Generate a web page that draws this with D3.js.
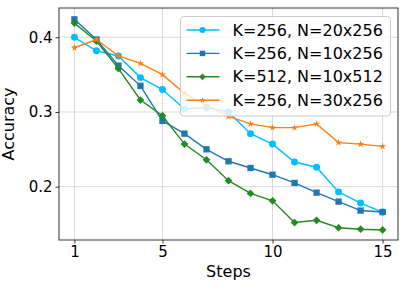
<!DOCTYPE html>
<html>
<head>
<meta charset="utf-8">
<script src="https://cdn.jsdelivr.net/npm/d3@7"></script>
<style>
  body { margin: 0; background: #fff; }
  svg { display: block; font-family: "DejaVu Sans", sans-serif; }
</style>
</head>
<body>
<svg id="chart" width="407" height="291"></svg>
<script>
var steps = d3.range(1, 16);
var xTicks = [1, 5, 10, 15];
var yTicks = [0.2, 0.3, 0.4];

var seriesNames = ["K=256, N=20x256", "K=256, N=10x256", "K=512, N=10x512", "K=256, N=30x256"];
var accN20 = [0.400, 0.382, 0.375, 0.346, 0.330, 0.304, 0.306, 0.300, 0.271, 0.257, 0.233, 0.226, 0.193, 0.178, 0.166];
var accN10 = [0.424, 0.397, 0.362, 0.335, 0.288, 0.271, 0.250, 0.234, 0.225, 0.216, 0.205, 0.192, 0.180, 0.168, 0.166];
var accK512 = [0.419, 0.395, 0.358, 0.316, 0.295, 0.257, 0.236, 0.208, 0.191, 0.181, 0.152, 0.155, 0.145, 0.143, 0.142];
var accN30 = [0.386, 0.397, 0.375, 0.365, 0.350, 0.325, 0.309, 0.294, 0.284, 0.279, 0.279, 0.284, 0.259, 0.257, 0.254];

var colors = ["#00bfff", "#1f77b4", "#228b22", "#ff7f0e"];

// matplotlib-like 'D' marker: a square turned 45 degrees
var symbolDiamondSquare = {
  draw: function (ctx, size) {
    var r = Math.sqrt(size / 2);
    ctx.moveTo(0, -r); ctx.lineTo(r, 0); ctx.lineTo(0, r); ctx.lineTo(-r, 0); ctx.closePath();
  }
};
var shapes = [d3.symbolCircle, d3.symbolSquare, symbolDiamondSquare, d3.symbolStar];
var sizes = [38, 40, 30, 16];

var series = [accN20, accN10, accK512, accN30].map(function (v, i) {
  return { name: seriesNames[i], values: v, color: colors[i], shape: shapes[i], size: sizes[i] };
});

var margin = { top: 8, right: 9, bottom: 51, left: 59 };
var svg = d3.select("#chart");
var width = 407 - margin.left - margin.right;
var height = 291 - margin.top - margin.bottom;

var x = d3.scaleLinear().domain([0.3, 15.7]).range([0, width]);
var y = d3.scaleLinear().domain([0.1286, 0.4392]).range([height, 0]);

var g = svg.append("g").attr("transform", "translate(" + margin.left + "," + margin.top + ")");

// grid
g.append("g").selectAll("line").data(xTicks).enter().append("line")
  .attr("x1", x).attr("x2", x).attr("y1", 0).attr("y2", height)
  .attr("stroke", "#d9d9d9").attr("stroke-width", 1);
g.append("g").selectAll("line").data(yTicks).enter().append("line")
  .attr("y1", y).attr("y2", y).attr("x1", 0).attr("x2", width)
  .attr("stroke", "#d9d9d9").attr("stroke-width", 1);

var line = d3.line().x(function (d, i) { return x(steps[i]); }).y(function (d) { return y(d); });

series.forEach(function (s) {
  var sg = g.append("g");
  sg.append("path").datum(s.values).attr("d", line)
    .attr("fill", "none").attr("stroke", s.color).attr("stroke-width", 1.4);
  sg.selectAll("path.m").data(s.values).enter().append("path").attr("class", "m")
    .attr("d", d3.symbol().type(s.shape).size(s.size))
    .attr("transform", function (d, i) { return "translate(" + x(steps[i]) + "," + y(d) + ")"; })
    .attr("fill", s.color);
});

// axes
var xAxis = g.append("g").attr("transform", "translate(0," + height + ")")
  .call(d3.axisBottom(x).tickValues(xTicks).tickSize(3.5).tickPadding(3).tickFormat(d3.format("d")));
var yAxis = g.append("g")
  .call(d3.axisLeft(y).tickValues(yTicks).tickSize(3.5).tickPadding(3).tickFormat(d3.format(".1f")));
[xAxis, yAxis].forEach(function (a) {
  a.select(".domain").remove();
  a.selectAll("line").attr("stroke", "#333");
  a.selectAll("text").attr("font-size", 15).attr("fill", "#000").attr("font-family", "DejaVu Sans");
});

g.append("rect").attr("width", width).attr("height", height)
  .attr("fill", "none").attr("stroke", "#333").attr("stroke-width", 1);

g.append("text").attr("x", width / 2).attr("y", height + 37)
  .attr("text-anchor", "middle").attr("font-size", 16).text("Steps");
g.append("text").attr("transform", "translate(" + (-45) + "," + (height / 2) + ") rotate(-90)")
  .attr("text-anchor", "middle").attr("font-size", 16).text("Accuracy");

// legend
var lg = svg.append("g").attr("transform", "translate(180.5,16.5)");
lg.append("rect").attr("width", 210).attr("height", 99.5).attr("rx", 3)
  .attr("fill", "#fff").attr("fill-opacity", 0.8).attr("stroke", "#ccc").attr("stroke-width", 1);
var row = lg.selectAll("g.row").data(series).enter().append("g").attr("class", "row")
  .attr("transform", function (d, i) { return "translate(0," + (13.5 + i * 23.4) + ")"; });
row.append("line").attr("x1", 6).attr("x2", 39).attr("stroke", function (d) { return d.color; }).attr("stroke-width", 1.4);
row.append("path").attr("d", function (d) { return d3.symbol().type(d.shape).size(d.size * 0.75)(); })
  .attr("transform", "translate(22,0)").attr("fill", function (d) { return d.color; });
row.append("text").attr("x", 52).attr("dy", "0.35em").attr("font-size", 16)
  .text(function (d) { return d.name; });
</script>
</body>
</html>
